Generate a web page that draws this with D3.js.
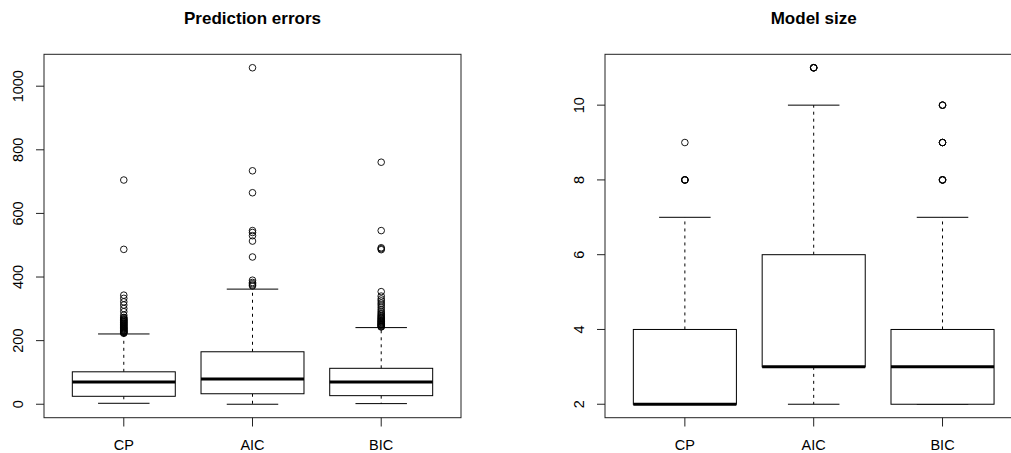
<!DOCTYPE html>
<html lang="en">
<head>
<meta charset="UTF-8">
<title>Boxplots</title>
<script src="https://d3js.org/d3.v7.min.js"></script>
<style>
  body { margin: 0; background: #fff; }
  svg { font-family: "Liberation Sans", Arial, sans-serif; }
</style>
</head>
<body>
<div id="content"></div>
<script>
// categories and box statistics
const categories = ["CP", "AIC", "BIC"];

const errLow  = [3, 0, 2];
const errQ1   = [25, 33, 27];
const errMed  = [70, 79, 70];
const errQ3   = [102, 165, 113];
const errHigh = [221, 362, 241];
const errOutCP  = [223, 225, 226, 228, 230, 231, 233, 235, 237, 238, 240, 242, 244, 246, 248, 250, 252, 254, 256, 258, 260, 262, 264, 266, 268, 271, 273, 280, 291, 301, 312, 322, 333, 343, 487, 705];
const errOutAIC = [372, 375, 379, 383, 390, 463, 513, 530, 540, 546, 665, 734, 1058];
const errOutBIC = [243, 244, 246, 248, 250, 251, 253, 255, 257, 259, 261, 263, 265, 268, 270, 273, 276, 279, 283, 287, 292, 298, 305, 312, 318, 325, 331, 340, 354, 486, 489, 492, 546, 761];
const errTicks = [0, 200, 400, 600, 800, 1000];

const sizeLow  = [2, 2, 2];
const sizeQ1   = [2, 3, 2];
const sizeMed  = [2, 3, 3];
const sizeQ3   = [4, 6, 4];
const sizeHigh = [7, 10, 7];
const sizeOutCP  = [8, 8, 8, 8, 9];
const sizeOutAIC = [11, 11, 11, 11];
const sizeOutBIC = [8, 8, 8, 8, 9, 9, 9, 10, 10, 10];
const sizeTicks = [2, 4, 6, 8, 10];

const W = 1011, H = 453;
const svg = d3.select("#content").append("svg")
    .attr("width", W).attr("height", H);

function boxPanel(opt) {
    const x = d3.scaleLinear().domain([0.38, 3.62]).range([opt.left, opt.right]);
    const y = d3.scaleLinear().domain(opt.ydomain).range([417.7, 54.3]);
    const g = svg.append("g");
    const bw = x(1.4) - x(1);   // half box width (0.8 total)
    const cw = bw / 2;          // half staple width

    const boxes = categories.map((c, i) => ({
        pos: i + 1, low: opt.low[i], q1: opt.q1[i], med: opt.med[i],
        q3: opt.q3[i], high: opt.high[i], out: opt.out[i]
    }));

    const b = g.selectAll("g.box").data(boxes).enter().append("g").attr("class", "box");

    // whiskers (dashed)
    b.append("line")
        .attr("x1", d => x(d.pos)).attr("x2", d => x(d.pos))
        .attr("y1", d => y(d.q3)).attr("y2", d => y(d.high))
        .attr("stroke", "#000").attr("stroke-dasharray", "3,4");
    b.append("line")
        .attr("x1", d => x(d.pos)).attr("x2", d => x(d.pos))
        .attr("y1", d => y(d.q1)).attr("y2", d => y(d.low))
        .attr("stroke", "#000").attr("stroke-dasharray", "3,4");
    // staples
    b.append("line")
        .attr("x1", d => x(d.pos) - cw).attr("x2", d => x(d.pos) + cw)
        .attr("y1", d => y(d.high)).attr("y2", d => y(d.high))
        .attr("stroke", "#000");
    b.append("line")
        .attr("x1", d => x(d.pos) - cw).attr("x2", d => x(d.pos) + cw)
        .attr("y1", d => y(d.low)).attr("y2", d => y(d.low))
        .attr("stroke", "#000");
    // box
    b.append("rect")
        .attr("x", d => x(d.pos) - bw).attr("width", 2 * bw)
        .attr("y", d => y(d.q3)).attr("height", d => y(d.q1) - y(d.q3))
        .attr("fill", "#fff").attr("stroke", "#000");
    // median
    b.append("line")
        .attr("x1", d => x(d.pos) - bw).attr("x2", d => x(d.pos) + bw)
        .attr("y1", d => y(d.med)).attr("y2", d => y(d.med))
        .attr("stroke", "#000").attr("stroke-width", 3);
    // outliers
    b.selectAll("circle").data(d => d.out.map(v => ({ pos: d.pos, v: v })))
        .enter().append("circle")
        .attr("cx", d => x(d.pos)).attr("cy", d => y(d.v))
        .attr("r", 3.3).attr("fill", "none").attr("stroke", "#000").attr("stroke-width", 0.9);

    // frame
    g.append("rect")
        .attr("x", opt.left).attr("y", 54.3)
        .attr("width", opt.right - opt.left).attr("height", 417.7 - 54.3)
        .attr("fill", "none").attr("stroke", "#222");

    // y axis
    g.selectAll("line.ytick").data(opt.ticks).enter().append("line")
        .attr("class", "ytick")
        .attr("x1", opt.left).attr("x2", opt.left - 8)
        .attr("y1", d => y(d)).attr("y2", d => y(d))
        .attr("stroke", "#222");
    g.selectAll("text.ylab").data(opt.ticks).enter().append("text")
        .attr("class", "ylab")
        .attr("transform", d => `translate(${opt.labelX},${y(d)}) rotate(-90)`)
        .attr("text-anchor", "middle").attr("dy", "0.35em")
        .attr("font-size", 14.5).text(d => d);

    // x axis
    g.selectAll("line.xtick").data(categories).enter().append("line")
        .attr("class", "xtick")
        .attr("x1", (d, i) => x(i + 1)).attr("x2", (d, i) => x(i + 1))
        .attr("y1", 417.7).attr("y2", 426.5)
        .attr("stroke", "#222");
    g.selectAll("text.xlab").data(categories).enter().append("text")
        .attr("class", "xlab")
        .attr("x", (d, i) => x(i + 1)).attr("y", 450)
        .attr("text-anchor", "middle").attr("font-size", 14.5).text(d => d);

    // title
    g.append("text")
        .attr("x", x(2)).attr("y", 24)
        .attr("text-anchor", "middle").attr("font-size", 17)
        .attr("font-weight", "bold").text(opt.title);
}

boxPanel({
    title: "Prediction errors", left: 44, right: 461, labelX: 18,
    ydomain: [-42.3, 1100.3], ticks: errTicks,
    low: errLow, q1: errQ1, med: errMed, q3: errQ3, high: errHigh,
    out: [errOutCP, errOutAIC, errOutBIC]
});

boxPanel({
    title: "Model size", left: 605, right: 1022.4, labelX: 579,
    ydomain: [1.64, 11.36], ticks: sizeTicks,
    low: sizeLow, q1: sizeQ1, med: sizeMed, q3: sizeQ3, high: sizeHigh,
    out: [sizeOutCP, sizeOutAIC, sizeOutBIC]
});
</script>
</body>
</html>
